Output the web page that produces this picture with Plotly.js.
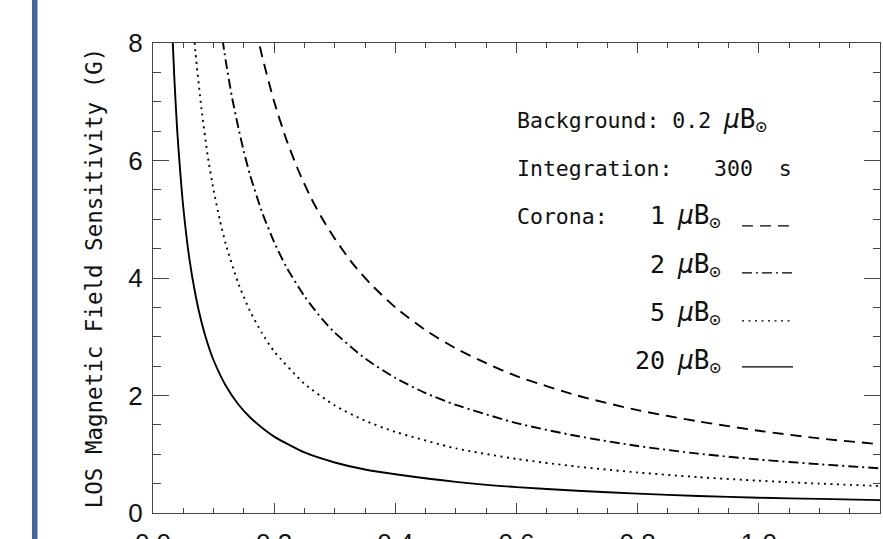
<!DOCTYPE html>
<html>
<head>
<meta charset="utf-8">
<script src="https://cdn.plot.ly/plotly-3.0.1.min.js"></script>
<style>html,body{margin:0;padding:0;background:#fff;}#chart{width:883px;height:539px;}</style>
</head>
<body>
<div id="chart"></div>
<script>
// Corona 20 μB⊙ (solid)
const solidX = [0.030,0.035,0.040,0.045,0.050,0.060,0.070,0.080,0.090,0.100,0.120,0.140,0.160,0.180,0.200,0.250,0.300,0.350,0.400,0.500,0.600,0.700,0.800,0.900,1.000,1.100,1.200];
const solidY = [8.65,7.45,6.50,5.80,5.20,4.33,3.72,3.25,2.89,2.60,2.17,1.86,1.63,1.45,1.30,1.03,0.86,0.74,0.66,0.53,0.44,0.38,0.33,0.29,0.26,0.24,0.22];
// Corona 5 μB⊙ (dotted)
const dottedX = [0.065,0.070,0.080,0.090,0.100,0.110,0.120,0.140,0.160,0.180,0.200,0.250,0.300,0.350,0.400,0.500,0.600,0.700,0.800,0.900,1.000,1.100,1.200];
const dottedY = [8.45,7.85,6.88,6.10,5.50,5.00,4.58,3.93,3.44,3.06,2.75,2.20,1.83,1.57,1.38,1.10,0.92,0.79,0.69,0.61,0.55,0.50,0.46];
// Corona 2 μB⊙ (dash-dot)
const dashdotX = [0.110,0.120,0.130,0.140,0.150,0.160,0.180,0.200,0.220,0.250,0.280,0.300,0.350,0.400,0.450,0.500,0.600,0.700,0.800,0.900,1.000,1.100,1.200];
const dashdotY = [8.40,7.70,7.10,6.60,6.15,5.76,5.12,4.61,4.19,3.69,3.29,3.07,2.63,2.30,2.04,1.84,1.53,1.31,1.14,1.01,0.91,0.83,0.76];
// Corona 1 μB⊙ (dashed)
const dashedX = [0.170,0.180,0.200,0.220,0.240,0.260,0.280,0.300,0.330,0.360,0.400,0.450,0.500,0.550,0.600,0.700,0.800,0.900,1.000,1.100,1.200];
const dashedY = [8.24,7.78,7.00,6.36,5.83,5.38,5.00,4.67,4.24,3.89,3.50,3.11,2.80,2.55,2.33,2.00,1.75,1.56,1.40,1.27,1.17];

const coronaLabels = ["1", "2", "5", "20"];
const xTickVals = [0, 0.2, 0.4, 0.6, 0.8, 1.0, 1.2];
const yTickVals = [0, 2, 4, 6, 8];

const MONO = '"DejaVu Sans Mono", "Liberation Mono", monospace';
const SANS = '"Liberation Sans", Arial, sans-serif';
const INK = '#111';
const AX = '#444';

function curve(x, y, dash) {
  return {x: x, y: y, type: 'scatter', mode: 'lines', showlegend: false, hoverinfo: 'skip',
    line: {color: '#000', width: 1.9, dash: dash, shape: 'spline', smoothing: 0.6}};
}
const traces = [
  curve(dashedX, dashedY, '11px,7px'),
  curve(dashdotX, dashdotY, '10px,4px,2px,4px'),
  curve(dottedX, dottedY, '2px,4.5px'),
  curve(solidX, solidY, 'solid')
];

const W = 727, H = 470.3, L = 153, T = 43;
function px(x) { return (x - L) / W; }
function py(y) { return (T + H - y) / H; }
const mu = '<span style="font-size:26px"><i>μ</i>B</span><sub><span style="font-size:19px">⊙</span></sub>';
const tf = {family: MONO, size: 21.5, color: INK};
function ann(text, x, y, anchor) {
  return {text: text, x: px(x), y: py(y), xref: 'paper', yref: 'paper', xanchor: anchor, yanchor: 'middle', showarrow: false, font: tf};
}
function num(n) { return '<span style="font-size:25px">' + n + '</span>'; }
const annotations = [
  ann('Background: 0.2 ' + mu, 515, 121, 'left'),
  ann('Integration:', 515, 169, 'left'),
  ann('300\u00a0\u00a0s', 712, 169, 'left'),
  ann('Corona:', 515, 217, 'left'),
  ann(num(coronaLabels[0]) + '\u00a0' + mu, 723, 217, 'right'),
  ann(num(coronaLabels[1]) + '\u00a0' + mu, 723, 266, 'right'),
  ann(num(coronaLabels[2]) + '\u00a0' + mu, 723, 314, 'right'),
  ann(num(coronaLabels[3]) + '\u00a0' + mu, 723, 362, 'right')
];
const sampleDash = ['11px,7px', '10px,4px,2px,4px', '2px,4.5px', 'solid'];
const sampleY = [226, 273, 321, 367];
const shapes = sampleDash.map((d, i) => ({type: 'line', xref: 'paper', yref: 'paper',
  x0: px(742), x1: px(793), y0: py(sampleY[i]), y1: py(sampleY[i]), line: {color: '#000', width: 1.3, dash: d}}));
shapes.push({type: 'rect', xref: 'paper', yref: 'paper', x0: px(32), x1: px(37.5), y0: -0.2, y1: 1.2,
  fillcolor: '#41659a', line: {width: 0}, layer: 'above'});

const layout = {
  width: 883, height: 539,
  margin: {l: 153, r: 3, t: 43, b: 26},
  paper_bgcolor: '#fff', plot_bgcolor: '#fff',
  showlegend: false,
  xaxis: {
    range: [0, 1.2], tickvals: xTickVals, tickformat: '.1f',
    ticks: 'inside', ticklen: 10, tickwidth: 1, tickcolor: AX,
    showline: true, linecolor: AX, linewidth: 1.2, mirror: 'allticks',
    showgrid: false, zeroline: false,
    minor: {dtick: 0.05, tick0: 0, ticks: 'inside', ticklen: 5, tickwidth: 1, tickcolor: AX, showgrid: false},
    tickfont: {family: SANS, size: 26, color: INK}, ticklabelstandoff: 7
  },
  yaxis: {
    range: [0, 8], tickvals: yTickVals, tickformat: 'd',
    ticks: 'inside', ticklen: 16, tickwidth: 1, tickcolor: AX,
    showline: true, linecolor: AX, linewidth: 1.2, mirror: 'allticks',
    showgrid: false, zeroline: false,
    minor: {dtick: 0.5, tick0: 0, ticks: 'inside', ticklen: 7.5, tickwidth: 1, tickcolor: AX, showgrid: false},
    tickfont: {family: SANS, size: 26, color: INK}, ticklabelstandoff: 4,
    title: {text: 'LOS Magnetic Field Sensitivity (G)', font: {family: MONO, size: 22.5, color: INK}, standoff: 19}
  },
  annotations: annotations,
  shapes: shapes
};
Plotly.newPlot('chart', traces, layout, {displayModeBar: false, staticPlot: true});
</script>
</body>
</html>
